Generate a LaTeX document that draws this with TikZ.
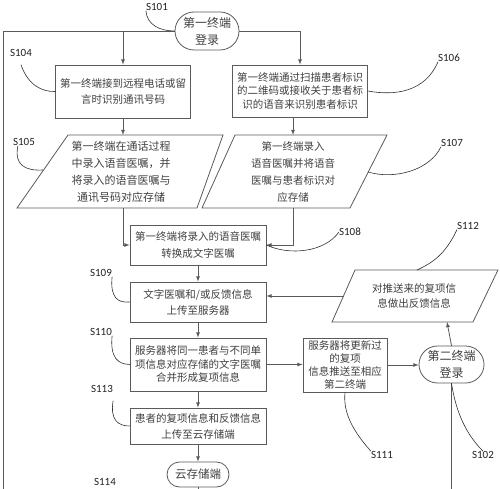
\documentclass[tikz,border=0pt]{standalone}
\usepackage{fontspec}
\newfontfamily\cjkfont{Noto Sans CJK SC}
\newfontfamily\tagfont{Carlito}
\usepackage{tikz}
\usetikzlibrary{arrows}
\usetikzlibrary{shapes.misc}
\begin{document}
\begin{tikzpicture}[x=1pt,y=-1pt,line cap=rect,
		flowbox/.style={draw=custcol_5a_5a_5a, line width=0.8pt, fill=white, align=center, inner sep=1pt, text=custcol_40_40_40, font=\cjkfont\fontsize{10.5pt}{15pt}\selectfont},
		termbox/.style={flowbox, rounded rectangle, font=\cjkfont\fontsize{12pt}{17pt}\selectfont},
		datatext/.style={align=center, inner sep=0pt, text=custcol_40_40_40, font=\cjkfont\fontsize{10.5pt}{17pt}\selectfont},
		dataedge/.style={draw=custcol_5a_5a_5a, line width=0.8pt, line join=miter},
		flowline/.style={draw=custcol_5a_5a_5a, line width=0.8pt},
		flowarrow/.style={flowline, -latex},
		steptag/.style={inner sep=0pt, text=custcol_20_20_20, font=\tagfont\fontsize{11pt}{11pt}\selectfont},
		leadline/.style={draw=custcol_30_30_30, line width=0.6pt, line cap=round}]
				\definecolor{custcol_5a_5a_5a}{RGB}{90, 90, 90}
				\definecolor{custcol_40_40_40}{RGB}{64, 64, 64}
				\definecolor{custcol_30_30_30}{RGB}{48, 48, 48}
				\definecolor{custcol_20_20_20}{RGB}{32, 32, 32}
				\useasboundingbox (0.0,0.0) rectangle (500.0,489.0);
				% boxes and terminals
				\node[termbox, minimum width=66pt, minimum height=38pt] (t1) at (207.0,31.0) {第一终端\\登录};
				\node[flowbox, minimum width=135pt, minimum height=53pt, font=\cjkfont\fontsize{10.5pt}{16pt}\selectfont] (s104) at (123.0,91.5) {第一终端接到远程电话或留\\言时识别通讯号码};
				\node[flowbox, minimum width=135pt, minimum height=52pt, font=\cjkfont\fontsize{10.5pt}{13.5pt}\selectfont] (s106) at (300.0,91.0) {第一终端通过扫描患者标识\\的二维码或接收关于患者标\\识的语音来识别患者标识};
				\coordinate (q105nw) at (68.0,135.0);
				\coordinate (q105ne) at (223.0,135.0);
				\coordinate (q105se) at (197.0,208.0);
				\coordinate (q105sw) at (17.0,208.0);
				\draw[dataedge] (q105nw) -- (q105ne) -- (q105se) -- (q105sw) -- cycle;
				\node[datatext, font=\cjkfont\fontsize{11pt}{17pt}\selectfont] (s105) at (121.0,172.0) {第一终端在通话过程\\中录入语音医嘱，并\\将录入的语音医嘱与\\通讯号码对应存储};
				\coordinate (q107nw) at (235.0,135.0);
				\coordinate (q107ne) at (387.0,135.0);
				\coordinate (q107se) at (350.0,208.0);
				\coordinate (q107sw) at (202.0,208.0);
				\draw[dataedge] (q107nw) -- (q107ne) -- (q107se) -- (q107sw) -- cycle;
				\node[datatext] (s107) at (293.0,172.0) {第一终端录入\\语音医嘱并将语音\\医嘱与患者标识对\\应存储};
				\node[flowbox, minimum width=136pt, minimum height=40pt, font=\cjkfont\fontsize{10.5pt}{17pt}\selectfont] (s108) at (198.0,245.0) {第一终端将录入的语音医嘱\\转换成文字医嘱};
				\node[flowbox, minimum width=136pt, minimum height=40pt, font=\cjkfont\fontsize{10.5pt}{16pt}\selectfont] (s109) at (198.0,302.0) {文字医嘱和/或反馈信息\\上传至服务器};
				\node[flowbox, minimum width=136pt, minimum height=53pt, font=\cjkfont\fontsize{10.5pt}{13.5pt}\selectfont] (s110) at (198.0,364.5) {服务器将同一患者与不同单\\项信息对应存储的文字医嘱\\合并形成复项信息};
				\node[flowbox, minimum width=136pt, minimum height=36pt, font=\cjkfont\fontsize{10.5pt}{16pt}\selectfont] (s113) at (198.0,426.0) {患者的复项信息和反馈信息\\上传至云存储端};
				\node[termbox, minimum width=64pt, minimum height=25pt, font=\cjkfont\fontsize{11.5pt}{14pt}\selectfont] (cloud) at (198.0,474.5) {云存储端};
				\node[flowbox, minimum width=84pt, minimum height=54pt, font=\cjkfont\fontsize{10.5pt}{13pt}\selectfont] (s111) at (345.0,365.0) {服务器将更新过\\的复项\\信息推送至相应\\第二终端};
				\node[termbox, minimum width=67pt, minimum height=37pt] (t2) at (451.5,364.5) {第二终端\\登录};
				\coordinate (q112nw) at (355.0,270.0);
				\coordinate (q112ne) at (498.0,270.0);
				\coordinate (q112se) at (473.0,322.0);
				\coordinate (q112sw) at (332.0,322.0);
				\draw[dataedge] (q112nw) -- (q112ne) -- (q112se) -- (q112sw) -- cycle;
				\node[datatext, font=\cjkfont\fontsize{10.5pt}{15pt}\selectfont] (s112) at (414.0,296.0) {对推送来的复项信\\息做出反馈信息};
				% connectors
				\coordinate (edgetop) at (3.0,31.0);
				\coordinate (edgebot) at (3.0,489.0);
				\coordinate (k112s) at (447.0,322.0);
				\coordinate (k112w) at (344.0,296.0);
				\draw[flowline] (t1.west) -- (edgetop) -- (edgebot);
				\draw[flowarrow] (t1.west -| s104.north) -- (s104.north);
				\draw[flowarrow] (t1.east) -| (s106.north);
				\draw[flowarrow] (s104.south) -- (s104.south |- q105nw);
				\draw[flowarrow] (s106.south -| s107) -- (s107 |- q107nw);
				\draw[flowarrow] (s104.south |- q105sw) |- (s108.west);
				\draw[flowarrow] (s107 |- q107sw) |- (s108.east);
				\draw[flowarrow] (s108.south) -- (s109.north);
				\draw[flowarrow] (s109.south) -- (s110.north);
				\draw[flowarrow] (s110.south) -- (s113.north);
				\draw[flowarrow] (s113.south) -- (cloud.north);
				\draw[flowline] (cloud.south) -- (cloud.south |- edgebot);
				\draw[flowarrow] (s110.east) -- (s110.east -| s111.west);
				\draw[flowarrow] (s111.east) -- (s111.east -| t2.west);
				\draw[flowline] (t2.south) -- (t2.south |- edgebot);
				\draw[flowarrow] (t2.north) -- (k112s);
				\draw[flowarrow] (k112w) -- (k112w -| s109.east);
				% step labels
				\node[steptag] (l101) at (157.0,7.0) {S101};
				\node[steptag] (l104) at (21.0,53.0) {S104};
				\node[steptag] (l106) at (449.0,58.0) {S106};
				\node[steptag] (l105) at (24.0,142.0) {S105};
				\node[steptag] (l107) at (452.0,143.0) {S107};
				\node[steptag] (l108) at (350.0,232.0) {S108};
				\node[steptag] (l109) at (101.0,273.0) {S109};
				\node[steptag] (l110) at (101.0,332.0) {S110};
				\node[steptag] (l113) at (102.0,389.0) {S113};
				\node[steptag] (l114) at (105.0,482.0) {S114};
				\node[steptag] (l112) at (468.0,226.0) {S112};
				\node[steptag] (l111) at (382.0,455.0) {S111};
				\node[steptag] (l102) at (483.0,455.0) {S102};
				\coordinate (k105) at (43.0,170.0);
				\coordinate (k107) at (368.0,172.0);
				\coordinate (k112n) at (417.0,270.0);
				\draw[leadline] (l101.south west) .. controls (147.0,25.0) and (160.0,31.0) .. (t1.west);
				\draw[leadline] ([yshift=-8pt]l104.south) .. controls (28.0,85.0) and (42.0,92.0) .. (s104.west);
				\draw[leadline] (l106.south west) .. controls (425.0,92.0) and (395.0,96.0) .. (s106.east);
				\draw[leadline] ([xshift=5pt]l105.south west) .. controls (14.0,165.0) and (25.0,171.0) .. (k105);
				\draw[leadline] (l107.south west) .. controls (430.0,170.0) and (395.0,180.0) .. (k107);
				\draw[leadline] (l108.west) .. controls (325.0,252.0) and (290.0,256.0) .. (s108.east);
				\draw[leadline] (l109.south east) .. controls (110.0,298.0) and (118.0,303.0) .. (s109.west);
				\draw[leadline] (l110.south east) .. controls (110.0,358.0) and (118.0,364.0) .. (s110.west);
				\draw[leadline] ([yshift=-8pt]l113.south east) .. controls (110.0,420.0) and (118.0,426.0) .. (s113.west);
				\draw[leadline] (l112.south west) .. controls (445.0,255.0) and (432.0,263.0) .. (k112n);
				\draw[leadline] (l111.north west) .. controls (352.0,430.0) and (343.0,412.0) .. (s111.south);
				\draw[leadline] (l102.north) .. controls (462.0,430.0) and (455.0,405.0) .. (t2.south);
			\end{tikzpicture}
\end{document}
